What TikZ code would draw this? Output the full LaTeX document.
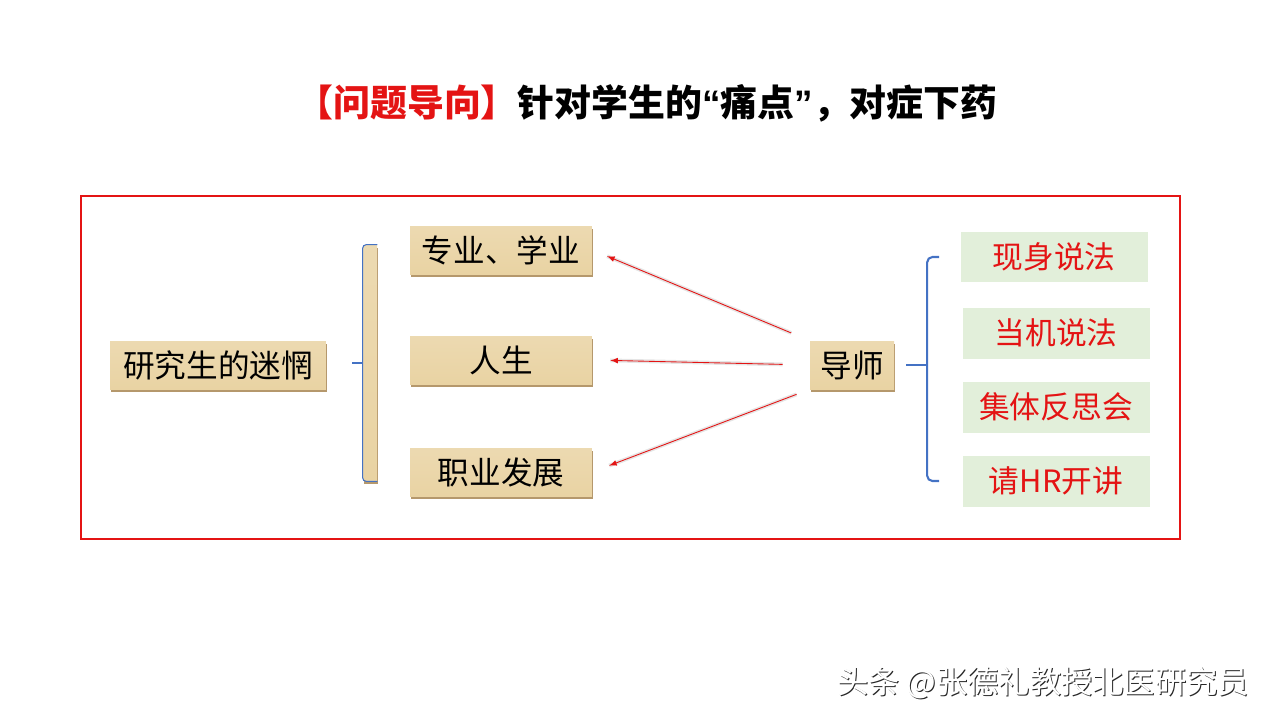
\documentclass[tikz,border=0pt]{standalone}
\usepackage{fontspec}
\setmainfont{Liberation Sans}
\newfontfamily\cjk{Noto Sans CJK SC}
\usetikzlibrary{shadows}

\definecolor{woodfill}{RGB}{233,211,163}
\definecolor{woodedge}{RGB}{150,108,45}
\definecolor{leaf}{RGB}{226,239,218}
\definecolor{bracecol}{RGB}{68,114,196}
\definecolor{hotred}{RGB}{228,20,20}

\begin{document}
\begin{tikzpicture}
  [x=0.02cm,y=-0.02cm,
   paper/.style={rectangle,inner sep=0pt,top color=woodfill!85!white,bottom color=woodfill,
     minimum height=0.96cm,font=\cjk\fontsize{18}{20}\selectfont,
     drop shadow={shadow xshift=0.6pt,shadow yshift=-1.8pt,fill=woodedge,opacity=.7}},
   tip/.style={rectangle,inner sep=0pt,fill=leaf,minimum width=3.74cm,minimum height=1.02cm,
     text=hotred,font=\cjk\fontsize{17.5}{20}\selectfont},
   arr/.style={draw=hotred,line width=0.5pt,-latex,preaction={draw=black!10,line width=2.2pt,-}},
   brace/.style={draw=bracecol,line width=1.2pt,rounded corners=3pt}]
  \useasboundingbox (0,0) rectangle (1280,720);

  \node[font=\cjk\bfseries\fontsize{21}{24}\selectfont] (title) at (647,103)
    {{\color{hotred}【问题导向】}针对学生的{\rmfamily“}痛点{\rmfamily”}，对症下药};

  \draw[hotred,line width=1.1pt] (81,196) rectangle (1180,539);

  \node[paper,minimum width=4.32cm] (mw) at (218,365) {研究生的迷惘};
  \node[paper,minimum width=0.28cm,minimum height=4.72cm] (bar) at (370,363) {};
  \draw[bracecol,line width=0.6pt,rounded corners=2pt]
    (bar.north east) -- (bar.north west) -- (bar.south west) -- (bar.south east);
  \draw[bracecol,line width=0.6pt] (bar.west) -- ++(-11,0);

  \node[paper,minimum width=3.64cm] (zy) at (501,250) {专业、学业};
  \node[paper,minimum width=3.64cm] (rs) at (501,360) {人生};
  \node[paper,minimum width=3.64cm] (zf) at (501,472) {职业发展};
  \node[paper,minimum width=1.68cm] (ds) at (852,365) {导师};

  \draw[arr,shorten <=0.4cm,shorten >=0.32cm] (ds.north west) -- (zy.east);
  \draw[arr,shorten <=0.54cm,shorten >=0.36cm] (ds.west) -- (rs.east);
  \draw[arr,shorten <=0.28cm,shorten >=0.36cm] (ds.south west) -- (zf.east);

  \node[tip] (xs) at (1054,257) {现身说法};
  \node[tip] (dj) at (1056,333) {当机说法};
  \node[tip] (jt) at (1056,407) {集体反思会};
  \node[tip] (hr) at (1056,481) {请HR开讲};

  \draw[brace] ([xshift=-0.42cm]xs.west) -- ++(-12,0) |- ([xshift=-0.46cm]hr.west);
  \draw[brace] ([xshift=0.24cm]ds.east) -- ++(22,0);

  \node[font=\cjk\fontsize{17.8}{20}\selectfont,text=black!85] (wm) at (1044,684)
    {头条 @张德礼教授北医研究员};
  \node[font=\cjk\fontsize{17.8}{20}\selectfont,text=white] (wmtop) at (1043,683)
    {头条 @张德礼教授北医研究员};
\end{tikzpicture}
\end{document}
